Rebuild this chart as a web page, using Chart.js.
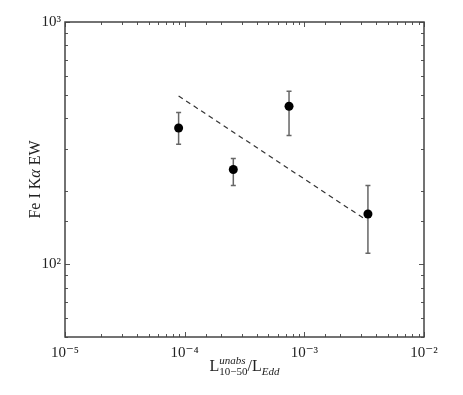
<!DOCTYPE html>
<html>
<head>
<meta charset="utf-8">
<script src="https://cdn.jsdelivr.net/npm/chart.js@4.4.0/dist/chart.umd.min.js"></script>
<style>
  body { margin: 0; background: #fff; }
  canvas { display: block; }
</style>
</head>
<body>
<canvas id="plot" width="463" height="395"></canvas>
<script>
// measured points (x = L/LEdd, y = Fe I Ka EW)
const lumRatio = [8.9e-5, 2.55e-4, 7.45e-4, 3.4e-3];
const ewValue = [365, 246, 449, 161];
const ewUpper = [423, 273, 518, 211];
const ewLower = [313, 211, 340, 111];

// dashed fit line
const fitX = [8.9e-5, 3.3e-3];
const fitY = [495, 152];

const xDecades = [1e-5, 1e-4, 1e-3, 1e-2];
const xDecadeLabels = ['10⁻⁵', '10⁻⁴', '10⁻³', '10⁻²'];
const yDecades = [1e2, 1e3];
const yDecadeLabels = ['10²', '10³'];

const serif = "'Liberation Serif', 'DejaVu Serif', serif";
const ink = '#222';

function decadeLabel(value, decades, labels) {
  for (let i = 0; i < decades.length; i++) {
    if (Math.abs(value / decades[i] - 1) < 1e-6) return labels[i];
  }
  return '';
}

// error bars under the markers
const errorBars = {
  id: 'errorBars',
  beforeDatasetsDraw(chart) {
    const ctx = chart.ctx;
    const xs = chart.scales.x, ys = chart.scales.y;
    ctx.save();
    ctx.strokeStyle = '#666';
    ctx.lineWidth = 1.5;
    for (let i = 0; i < lumRatio.length; i++) {
      const px = xs.getPixelForValue(lumRatio[i]);
      const top = ys.getPixelForValue(ewUpper[i]);
      const bot = ys.getPixelForValue(ewLower[i]);
      ctx.beginPath();
      ctx.moveTo(px, top); ctx.lineTo(px, bot);
      ctx.moveTo(px - 2.5, top); ctx.lineTo(px + 2.5, top);
      ctx.moveTo(px - 2.5, bot); ctx.lineTo(px + 2.5, bot);
      ctx.stroke();
    }
    ctx.restore();
  }
};

// box, inward ticks on all four sides, axis titles
const frame = {
  id: 'frame',
  afterDraw(chart) {
    const ctx = chart.ctx;
    const a = chart.chartArea;
    const xs = chart.scales.x, ys = chart.scales.y;
    ctx.save();
    ctx.strokeStyle = '#555';
    ctx.lineWidth = 1;
    ctx.beginPath();
    xs.ticks.forEach(t => {
      const px = Math.round(xs.getPixelForValue(t.value)) + 0.5;
      const len = decadeLabel(t.value, xDecades, xDecadeLabels) ? 5 : 3;
      ctx.moveTo(px, a.bottom); ctx.lineTo(px, a.bottom - len);
      ctx.moveTo(px, a.top); ctx.lineTo(px, a.top + len);
    });
    ys.ticks.forEach(t => {
      const py = Math.round(ys.getPixelForValue(t.value)) + 0.5;
      const len = decadeLabel(t.value, yDecades, yDecadeLabels) ? 5 : 3;
      ctx.moveTo(a.left, py); ctx.lineTo(a.left + len, py);
      ctx.moveTo(a.right, py); ctx.lineTo(a.right - len, py);
    });
    ctx.stroke();

    ctx.strokeStyle = '#444';
    ctx.lineWidth = 1.5;
    ctx.strokeRect(a.left, a.top, a.right - a.left, a.bottom - a.top);

    // x title: L^unabs_10-50 / L_Edd
    ctx.fillStyle = ink;
    ctx.textBaseline = 'alphabetic';
    const parts = [
      { t: 'L', f: '16px ' + serif, dy: 0 },
      { t: 'unabs', f: 'italic 11px ' + serif, dy: -7, stack: true },
      { t: '10−50', f: '11px ' + serif, dy: 4 },
      { t: '/L', f: '16px ' + serif, dy: 0 },
      { t: 'Edd', f: 'italic 11px ' + serif, dy: 4 }
    ];
    const widths = parts.map(p => { ctx.font = p.f; return ctx.measureText(p.t).width; });
    let total = 0;
    parts.forEach((p, i) => { if (!p.stack) total += widths[i]; });
    total += Math.max(0, widths[1] - widths[2]);
    let x = (a.left + a.right) / 2 - total / 2;
    const base = 371;
    parts.forEach((p, i) => {
      ctx.font = p.f;
      ctx.fillText(p.t, x, base + p.dy);
      if (p.stack) return;
      if (i === 2) x += Math.max(widths[1], widths[2]);
      else x += widths[i];
    });

    // y title: Fe I Kα EW (alpha in italic)
    ctx.translate(40, (a.top + a.bottom) / 2);
    ctx.rotate(-Math.PI / 2);
    const yParts = [
      { t: 'Fe I K', f: '16px ' + serif },
      { t: 'α', f: 'italic 16px ' + serif },
      { t: ' EW', f: '16px ' + serif }
    ];
    const yw = yParts.map(p => { ctx.font = p.f; return ctx.measureText(p.t).width; });
    let yx = -yw.reduce((s, w) => s + w, 0) / 2;
    yParts.forEach((p, i) => {
      ctx.font = p.f;
      ctx.fillText(p.t, yx, 0);
      yx += yw[i];
    });
    ctx.restore();
  }
};

new Chart(document.getElementById('plot'), {
  type: 'scatter',
  data: {
    datasets: [
      {
        data: lumRatio.map((v, i) => ({ x: v, y: ewValue[i] })),
        pointRadius: 4.5,
        pointHoverRadius: 4.5,
        pointBackgroundColor: '#000',
        pointBorderColor: '#000',
        pointBorderWidth: 0,
        showLine: false
      },
      {
        data: fitX.map((v, i) => ({ x: v, y: fitY[i] })),
        showLine: true,
        pointRadius: 0,
        borderColor: '#333',
        borderWidth: 1.2,
        borderDash: [5, 4]
      }
    ]
  },
  options: {
    responsive: false,
    animation: false,
    events: [],
    layout: { padding: { left: 35, right: 39, top: 22, bottom: 30 } },
    plugins: { legend: { display: false }, tooltip: { enabled: false } },
    scales: {
      x: {
        type: 'logarithmic',
        min: 1e-5,
        max: 1e-2,
        grid: { display: false, drawTicks: false },
        border: { display: false },
        afterFit: s => { s.height = 28; },
        ticks: {
          autoSkip: false,
          maxRotation: 0,
          padding: 7,
          color: ink,
          font: { family: serif, size: 15 },
          callback: v => decadeLabel(v, xDecades, xDecadeLabels)
        }
      },
      y: {
        type: 'logarithmic',
        min: 50,
        max: 1000,
        grid: { display: false, drawTicks: false },
        border: { display: false },
        afterFit: s => { s.width = 30; },
        ticks: {
          autoSkip: false,
          padding: 4,
          color: ink,
          font: { family: serif, size: 15 },
          callback: v => decadeLabel(v, yDecades, yDecadeLabels)
        }
      }
    }
  },
  plugins: [errorBars, frame]
});
</script>
</body>
</html>
